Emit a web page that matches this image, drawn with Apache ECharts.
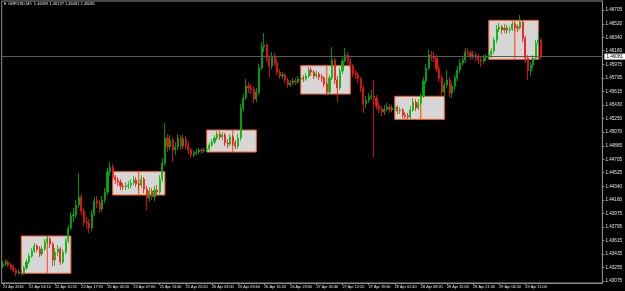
<!DOCTYPE html>
<html>
<head>
<meta charset="utf-8">
<script src="https://cdn.jsdelivr.net/npm/echarts@6/dist/echarts.min.js"></script>
<style>
html, body { margin: 0; padding: 0; background: #000; }
#chart { width: 625px; height: 291px; }
</style>
</head>
<body>
<div id="chart"></div>
<script>
var candles = [
[1.43275,1.43301,1.43248,1.43342],[1.43301,1.43328,1.43275,1.43368],[1.43328,1.43288,1.43261,1.43355],[1.43288,1.43261,1.43221,1.43315],
[1.43261,1.43221,1.43194,1.43288],[1.43221,1.43181,1.43141,1.43248],[1.43181,1.43194,1.43154,1.43234],[1.43194,1.43181,1.43141,1.43221],
[1.43181,1.43248,1.43154,1.43275],[1.43248,1.43328,1.43221,1.43368],[1.43328,1.43408,1.43301,1.43449],[1.43408,1.43476,1.43382,1.43516],
[1.43476,1.43543,1.43449,1.43583],[1.43543,1.43502,1.43462,1.43569],[1.43502,1.43435,1.43395,1.43543],[1.43435,1.43502,1.43408,1.43543],
[1.43502,1.43596,1.43476,1.43636],[1.43596,1.43636,1.43556,1.43677],[1.43636,1.43569,1.43516,1.43663],[1.43569,1.43355,1.43275,1.43596],
[1.43355,1.43462,1.43275,1.43516],[1.43462,1.43502,1.43408,1.43556],[1.43502,1.43328,1.43288,1.43529],[1.43328,1.43462,1.43301,1.43502],
[1.43462,1.43610,1.43435,1.43650],[1.43610,1.43784,1.43583,1.43824],[1.43784,1.43945,1.43757,1.43998],[1.43945,1.43958,1.43864,1.44052],
[1.43958,1.44092,1.43918,1.44159],[1.44092,1.44199,1.44052,1.44521],[1.44199,1.44012,1.43958,1.44239],[1.44012,1.43864,1.43811,1.44052],
[1.43864,1.43851,1.43770,1.43931],[1.43851,1.43784,1.43717,1.43904],[1.43784,1.43971,1.43744,1.44025],[1.43971,1.44146,1.43945,1.44199],
[1.44146,1.44119,1.44052,1.44213],[1.44119,1.44038,1.43985,1.44159],[1.44038,1.44159,1.43998,1.44213],[1.44159,1.44266,1.44119,1.44320],
[1.44266,1.44534,1.44226,1.44588],[1.44534,1.44601,1.44481,1.44668],[1.44601,1.44467,1.44427,1.44641],[1.44467,1.44427,1.44373,1.44494],
[1.44427,1.44400,1.44347,1.44467],[1.44400,1.44347,1.44293,1.44440],[1.44347,1.44333,1.44293,1.44387],[1.44333,1.44347,1.44293,1.44400],
[1.44347,1.44360,1.44306,1.44414],[1.44360,1.44387,1.44320,1.44440],[1.44387,1.44427,1.44360,1.44481],[1.44427,1.44373,1.44333,1.44467],
[1.44373,1.44360,1.44293,1.44427],[1.44360,1.44440,1.44320,1.44494],[1.44440,1.44306,1.44253,1.44467],[1.44306,1.44186,1.44025,1.44347],
[1.44186,1.44280,1.44132,1.44333],[1.44280,1.44199,1.44159,1.44320],[1.44199,1.44293,1.44146,1.44347],[1.44293,1.44266,1.44213,1.44360],
[1.44266,1.44440,1.44239,1.44494],[1.44440,1.44655,1.44400,1.44722],[1.44655,1.44990,1.44615,1.45191],[1.44990,1.44869,1.44802,1.45044],
[1.44869,1.44963,1.44829,1.45030],[1.44963,1.44829,1.44668,1.45003],[1.44829,1.44869,1.44762,1.44936],[1.44869,1.44990,1.44829,1.45044],
[1.44990,1.44883,1.44829,1.45030],[1.44883,1.44976,1.44842,1.45030],[1.44976,1.44896,1.44842,1.45017],[1.44896,1.44829,1.44775,1.44936],
[1.44829,1.44762,1.44722,1.44856],[1.44762,1.44789,1.44735,1.44829],[1.44789,1.44802,1.44762,1.44842],[1.44802,1.44829,1.44775,1.44856],
[1.44829,1.44816,1.44775,1.44856],[1.44816,1.44829,1.44789,1.44856],[1.44829,1.44842,1.44802,1.44883],[1.44842,1.44896,1.44816,1.44936],
[1.44896,1.44936,1.44869,1.44976],[1.44936,1.44990,1.44909,1.45030],[1.44990,1.45044,1.44963,1.45084],[1.45044,1.45003,1.44963,1.45084],
[1.45003,1.45030,1.44963,1.45071],[1.45030,1.44923,1.44883,1.45057],[1.44923,1.44909,1.44856,1.44976],[1.44909,1.45003,1.44883,1.45044],
[1.45003,1.44923,1.44883,1.45030],[1.44923,1.44883,1.44842,1.44963],[1.44883,1.44990,1.44842,1.45044],[1.44990,1.45392,1.44950,1.45445],
[1.45392,1.45526,1.45352,1.45579],[1.45526,1.45687,1.45499,1.45780],[1.45687,1.45660,1.45593,1.45740],[1.45660,1.45647,1.45579,1.45713],
[1.45647,1.45512,1.45459,1.45687],[1.45512,1.45606,1.45472,1.45660],[1.45606,1.45928,1.45566,1.45981],[1.45928,1.46209,1.45901,1.46276],
[1.46209,1.46236,1.46142,1.46397],[1.46236,1.46062,1.46008,1.46263],[1.46062,1.45955,1.45807,1.46102],[1.45955,1.46089,1.45914,1.46142],
[1.46089,1.45995,1.45955,1.46129],[1.45995,1.45874,1.45834,1.46035],[1.45874,1.45821,1.45780,1.45914],[1.45821,1.45834,1.45780,1.45874],
[1.45834,1.45767,1.45727,1.45861],[1.45767,1.45700,1.45660,1.45794],[1.45700,1.45727,1.45673,1.45767],[1.45727,1.45754,1.45700,1.45794],
[1.45754,1.45740,1.45700,1.45794],[1.45740,1.45780,1.45713,1.45821],[1.45780,1.45794,1.45740,1.45834],[1.45794,1.45780,1.45740,1.45834],
[1.45780,1.45821,1.45754,1.45861],[1.45821,1.45901,1.45794,1.45941],[1.45901,1.45874,1.45821,1.45941],[1.45874,1.45821,1.45780,1.45901],
[1.45821,1.45847,1.45794,1.45888],[1.45847,1.45807,1.45767,1.45874],[1.45807,1.45794,1.45740,1.45847],[1.45794,1.45713,1.45673,1.45821],
[1.45713,1.45606,1.45566,1.45740],[1.45606,1.45794,1.45579,1.45834],[1.45794,1.46035,1.45767,1.46209],[1.46035,1.45767,1.45713,1.46062],
[1.45767,1.45660,1.45472,1.45821],[1.45660,1.45888,1.45633,1.45928],[1.45888,1.46022,1.45847,1.46062],[1.46022,1.46102,1.45995,1.46196],
[1.46102,1.46022,1.45981,1.46142],[1.46022,1.45955,1.45914,1.46062],[1.45955,1.45847,1.45807,1.45981],[1.45847,1.45834,1.45780,1.45901],
[1.45834,1.45780,1.45727,1.45874],[1.45780,1.45660,1.45606,1.45807],[1.45660,1.45445,1.45325,1.45687],[1.45445,1.45499,1.45392,1.45553],
[1.45499,1.45539,1.45459,1.45593],[1.45539,1.45553,1.45499,1.45633],[1.45553,1.45526,1.44735,1.45767],[1.45526,1.45419,1.45365,1.45566],
[1.45419,1.45378,1.45325,1.45459],[1.45378,1.45338,1.45285,1.45419],[1.45338,1.45378,1.45298,1.45432],[1.45378,1.45405,1.45352,1.45459],
[1.45405,1.45365,1.45325,1.45445],[1.45365,1.45392,1.45338,1.45432],[1.45392,1.45405,1.45352,1.45445],[1.45405,1.45352,1.45311,1.45432],
[1.45352,1.45365,1.45311,1.45405],[1.45365,1.45298,1.45258,1.45392],[1.45298,1.45285,1.45244,1.45338],[1.45285,1.45271,1.45244,1.45325],
[1.45271,1.45365,1.45244,1.45419],[1.45365,1.45472,1.45338,1.45526],[1.45472,1.45392,1.45352,1.45512],[1.45392,1.45459,1.45365,1.45512],
[1.45459,1.45553,1.45419,1.45593],[1.45553,1.45754,1.45526,1.45807],[1.45754,1.45928,1.45713,1.45981],[1.45928,1.46102,1.45901,1.46169],
[1.46102,1.46075,1.46022,1.46156],[1.46075,1.46062,1.46008,1.46142],[1.46062,1.45914,1.45874,1.46102],[1.45914,1.45794,1.45740,1.45955],
[1.45794,1.45606,1.45553,1.45834],[1.45606,1.45700,1.45499,1.45740],[1.45700,1.45767,1.45660,1.45901],[1.45767,1.45593,1.45539,1.45807],
[1.45593,1.45687,1.45526,1.45727],[1.45687,1.45794,1.45633,1.45834],[1.45794,1.45901,1.45754,1.45955],[1.45901,1.45995,1.45861,1.46048],
[1.45995,1.46035,1.45955,1.46089],[1.46035,1.46142,1.45995,1.46196],[1.46142,1.46129,1.46075,1.46196],[1.46129,1.46089,1.46035,1.46169],
[1.46089,1.46102,1.46048,1.46156],[1.46102,1.46075,1.46022,1.46142],[1.46075,1.46035,1.45981,1.46115],[1.46035,1.46022,1.45941,1.46075],
[1.46022,1.46062,1.45981,1.46102],[1.46062,1.46075,1.46022,1.46115],[1.46075,1.46102,1.46048,1.46142],[1.46102,1.46156,1.46062,1.46196],
[1.46156,1.46303,1.46115,1.46343],[1.46303,1.46450,1.46263,1.46504],[1.46450,1.46477,1.46410,1.46531],[1.46477,1.46437,1.46383,1.46504],
[1.46437,1.46464,1.46397,1.46517],[1.46464,1.46437,1.46383,1.46504],[1.46437,1.46450,1.46397,1.46491],[1.46450,1.46517,1.46424,1.46558],
[1.46517,1.46477,1.46424,1.46544],[1.46477,1.46464,1.46410,1.46517],[1.46464,1.46544,1.46437,1.46638],[1.46544,1.46330,1.46276,1.46571],
[1.46330,1.46062,1.45995,1.46357],[1.46062,1.45888,1.45767,1.46102],[1.45888,1.45968,1.45821,1.46008],[1.45968,1.46062,1.45928,1.46102],
[1.46062,1.46263,1.46035,1.46303],[1.46263,1.46303,1.46223,1.46410],[1.46303,1.46081,1.46035,1.46330]
];

var lastPrice = 1.46081;
var headerText = '\u25BC GBPUSD,M5  1.46099 1.46137 1.46081 1.46081';

// one slot = 40 minutes, the chart keeps empty slots on the right
var slotCount = 230;

var xTickLabels = ['21 Apr 2016','22 Apr 04:15','22 Apr 10:55','22 Apr 17:35','25 Apr 00:20','25 Apr 07:00',
	'25 Apr 13:40','25 Apr 20:20','26 Apr 03:00','26 Apr 09:40','26 Apr 16:20','26 Apr 23:00','27 Apr 05:40',
	'27 Apr 12:20','27 Apr 19:00','28 Apr 01:40','28 Apr 08:20','28 Apr 15:00','28 Apr 21:40','29 Apr 04:20','29 Apr 11:00'];

var yTicks = [1.43075,1.43255,1.43435,1.43615,1.43795,1.43975,1.44160,1.44340,1.44525,1.44705,1.44885,
	1.45070,1.45250,1.45430,1.45615,1.45795,1.45975,1.46160,1.46340,1.46520,1.46705];

// range boxes (slot index and price), each split in two at boxSplit
var boxStart  = [7, 42, 78, 114, 150, 186];
var boxEnd    = [26, 62, 97, 133, 169, 205];
var boxSplit  = [17, 52, 88, 124, 160, 196];
var boxTop    = [1.43677, 1.44539, 1.45097, 1.45959, 1.45549, 1.46567];
var boxBottom = [1.43177, 1.44226, 1.44802, 1.45579, 1.45240, 1.46044];

var slots = [];
for (var i = 0; i < slotCount; i++) slots.push(String(i));

var areaData = [];
for (var b = 0; b < boxStart.length; b++) {
	areaData.push([{ xAxis: boxStart[b], yAxis: boxTop[b] }, { xAxis: boxSplit[b], yAxis: boxBottom[b] }]);
	areaData.push([{ xAxis: boxSplit[b], yAxis: boxTop[b] }, { xAxis: boxEnd[b], yAxis: boxBottom[b] }]);
}

function isTick(idx) {
	return idx % 10 === 0 && idx / 10 < xTickLabels.length;
}

var frameColor = '#8e8e8e';
var textColor = '#e6e6e6';
var boxLine = '#ff5a22';
var font = 'Liberation Sans';

var chart = echarts.init(document.getElementById('chart'));
chart.setOption({
	animation: false,
	backgroundColor: '#000',
	title: {
		text: headerText,
		left: 3,
		top: 2,
		padding: 0,
		textStyle: { color: textColor, fontSize: 4, fontWeight: 'normal', fontFamily: font }
	},
	grid: {
		left: 0, right: 20, top: 1, bottom: 8,
		show: true,
		borderColor: frameColor,
		borderWidth: 1,
		backgroundColor: '#000'
	},
	xAxis: {
		type: 'category',
		data: slots,
		boundaryGap: true,
		axisLine: { lineStyle: { color: frameColor } },
		axisTick: { show: true, alignWithLabel: true, interval: isTick, length: 2, lineStyle: { color: frameColor } },
		axisLabel: {
			interval: isTick,
			formatter: function (v, idx) { return xTickLabels[idx / 10] || ''; },
			color: textColor, fontSize: 3.8, fontFamily: font, align: 'left', margin: 2
		},
		splitLine: { show: false }
	},
	yAxis: {
		type: 'value',
		position: 'right',
		min: 1.43047,
		max: 1.46826,
		axisLine: { show: true, lineStyle: { color: frameColor } },
		axisTick: { show: true, customValues: yTicks, length: 2, lineStyle: { color: frameColor } },
		axisLabel: {
			customValues: yTicks,
			interval: 0,
			formatter: function (v) { return v.toFixed(5); },
			color: textColor, fontSize: 4.6, fontFamily: font, margin: 3
		},
		splitLine: { show: false }
	},
	series: [
		{
			name: 'boxes',
			type: 'line',
			data: [],
			z: 1,
			silent: true,
			markArea: {
				silent: true,
				itemStyle: { color: '#d6d6d6', borderColor: boxLine, borderWidth: 1 },
				data: areaData
			}
		},
		{
			name: 'GBPUSD',
			type: 'candlestick',
			z: 3,
			barWidth: 1.6,
			data: candles,
			itemStyle: {
				color: '#00b400',
				color0: '#ff1010',
				borderColor: '#00b400',
				borderColor0: '#ff1010',
				borderWidth: 0.8
			}
		},
		{
			name: 'price',
			type: 'line',
			data: [],
			z: 4,
			silent: true,
			markLine: {
				silent: true,
				precision: 5,
				symbol: 'none',
				emphasis: { disabled: true },
				lineStyle: { color: '#5a5a5a', width: 1, type: 'solid' },
				label: {
					position: 'end',
					distance: 2,
					formatter: function () { return lastPrice.toFixed(5); },
					backgroundColor: '#ffffff',
					color: '#000',
					fontSize: 4.6,
					fontFamily: font,
					padding: [1, 2, 0, 2]
				},
				data: [{ yAxis: lastPrice }]
			}
		}
	]
});
</script>
</body>
</html>
